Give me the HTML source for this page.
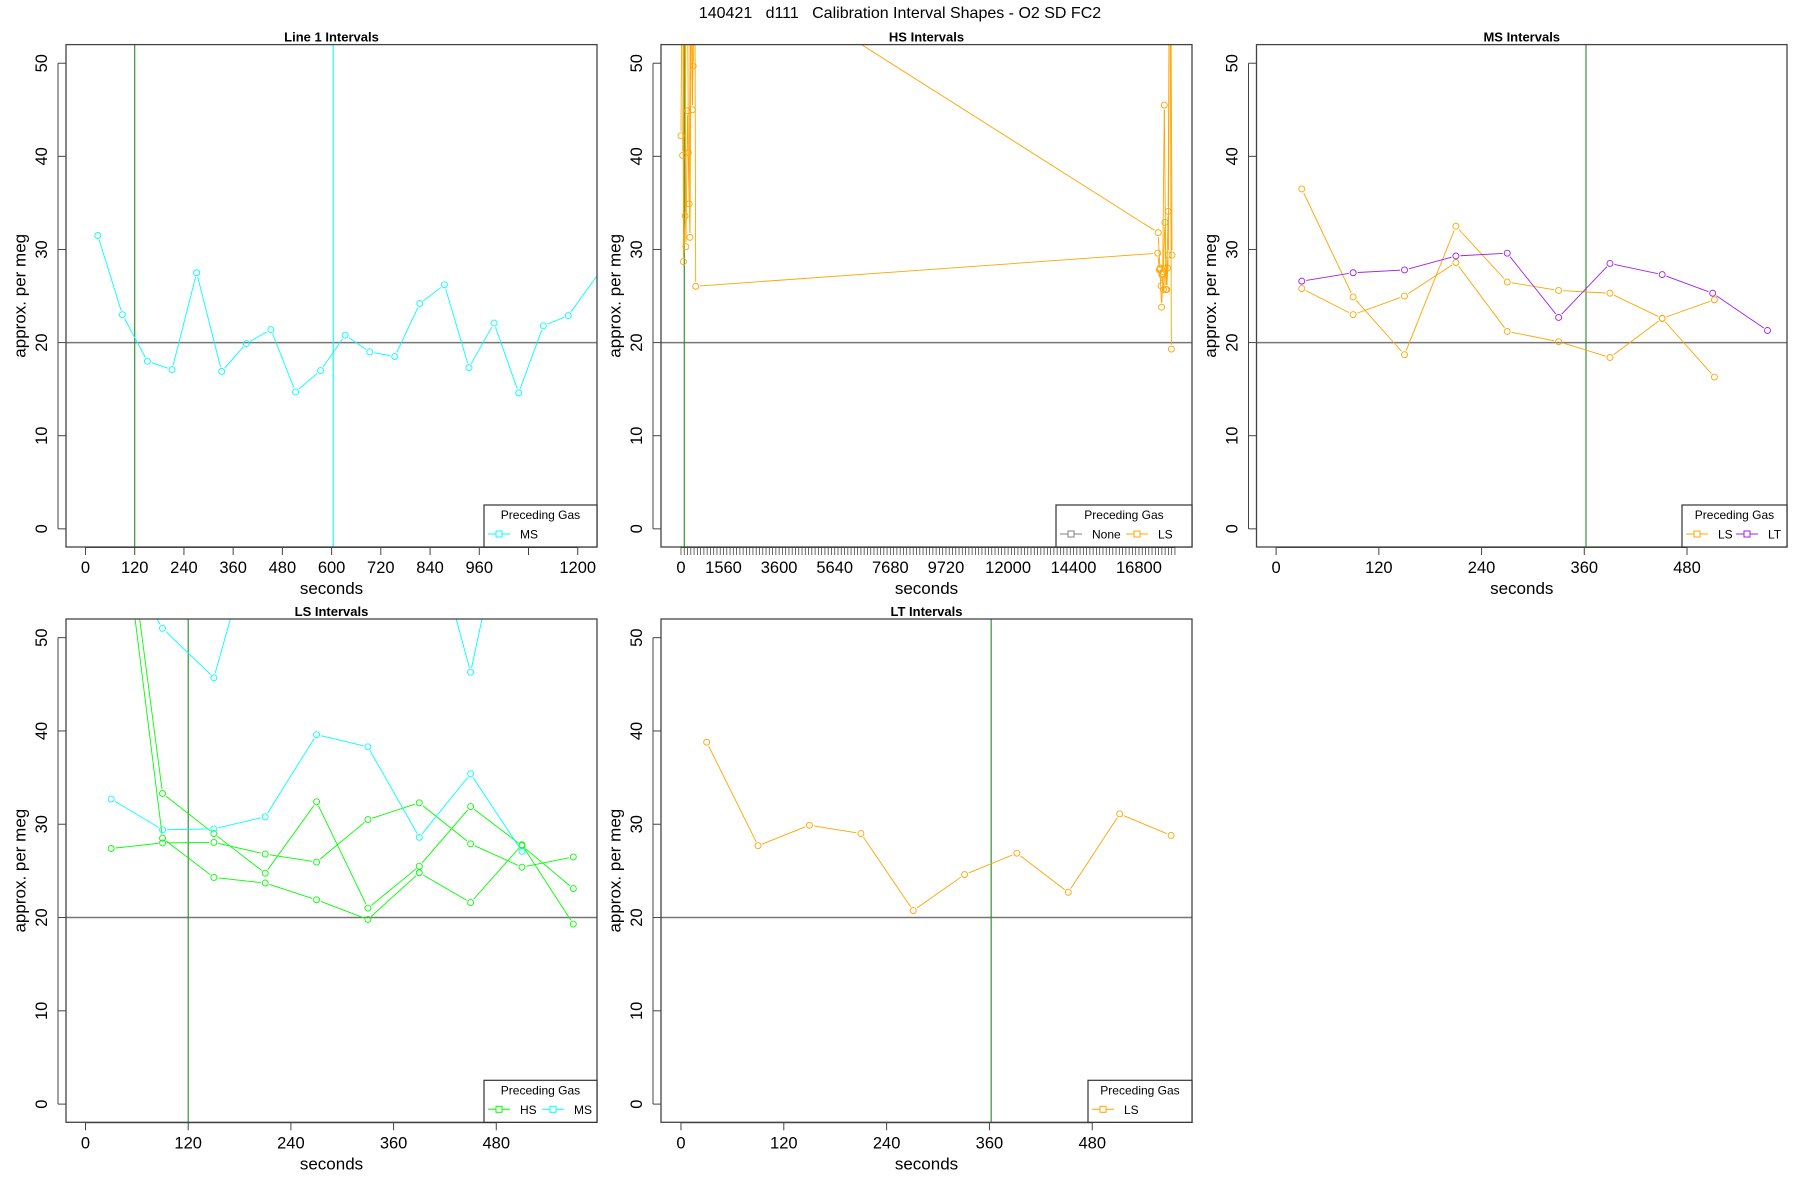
<!DOCTYPE html>
<html><head><meta charset="utf-8"><style>
html,body{margin:0;padding:0;background:#fff;}
svg{display:block;font-family:"Liberation Sans",sans-serif;}
</style></head><body>
<svg id="fig" width="1800" height="1200" viewBox="0 0 1800 1200" xmlns="http://www.w3.org/2000/svg">
<text x="900" y="18" font-size="16" text-anchor="middle" style="white-space:pre" xml:space="preserve">140421   d111   Calibration Interval Shapes - O2 SD FC2</text>
</svg>
<script>
// ---- Data arrays ----
const yTicks = [0, 10, 20, 30, 40, 50];
const refLineValue = 20;

// Panel 1: Line 1 Intervals
const line1MsX = [30, 90, 151, 211, 271, 332, 392, 452, 512, 573, 633, 693, 754, 815, 875, 935, 996, 1056, 1116, 1177, 1300];
const line1MsY = [31.5, 23.0, 18.0, 17.1, 27.5, 16.9, 19.9, 21.4, 14.7, 17.0, 20.8, 19.0, 18.5, 24.2, 26.2, 17.3, 22.1, 14.6, 21.8, 22.9, 30.4];
const line1VLines = [120, 604];
const line1XTicks = [0, 120, 240, 360, 480, 600, 720, 840, 960, 1080, 1200];
const line1XLabels = ["0", "120", "240", "360", "480", "600", "720", "840", "960", "", "1200"];

// Panel 2: HS Intervals (LS preceding)
const hsS1X = [0, 60, 90, 150, 210, 270, 330, 390, 450, 500, 540, 17490, 17550, 17610, 17670, 17730, 17790, 17850];
const hsS1Y = [42.2, 70, 28.7, 33.6, 80, 40.4, 31.3, 70, 49.7, 70, 26.05, 29.6, 27.8, 26.1, 27.4, 45.5, 25.7, 28.0];
const hsS2X = [60, 120, 180, 240, 300, 360, 420, 480, 17505, 17570, 17630, 17690, 17750, 17810, 17870, 17930, 17990];
const hsS2Y = [40.1, 65, 30.3, 44.9, 34.9, 65, 45.0, 63.4, 31.8, 27.9, 23.8, 27.6, 32.9, 25.7, 34.1, 70, 19.3];
const hsS3X = [17580, 17640, 17700, 17760, 17820, 17880, 17940, 18013];
const hsS3Y = [28.0, 27.3, 25.7, 28.0, 25.7, 29.4, 80, 29.4];
const hsVLines = [120];
const hsTickStep = 120;
const hsTickMax = 18120;
const hsLabelValues = [0, 1560, 3600, 5640, 7680, 9720, 12000, 14400, 16800];

// Panel 3: MS Intervals
const msX = [30, 90, 150, 210, 270, 330, 390, 451, 512];
const msLsAY = [36.5, 24.9, 18.7, 32.5, 26.5, 25.6, 25.3, 22.6, 16.3];
const msLsBY = [25.8, 23.0, 25.0, 28.6, 21.2, 20.1, 18.4, 22.6, 24.6];
const msLtX = [30, 90, 150, 210, 270, 330, 390, 451, 510, 574];
const msLtY = [26.6, 27.5, 27.8, 29.3, 29.6, 22.7, 28.5, 27.3, 25.3, 21.3];
const msVLines = [362];

// Panel 4: LS Intervals
const lsX = [30, 90, 150, 210, 270, 330, 390, 450, 510, 570];
const lsHs1Y = [27.4, 28.0, 28.05, 26.8, 25.95, 30.5, 32.3, 27.9, 25.4, 26.5];
const lsHs2Y = [72.5, 28.5, 24.3, 23.7, 21.9, 19.8, 24.8, 21.6, 27.8, 19.3];
const lsHs3Y = [75.3, 33.3, 29.0, 24.75, 32.4, 21.0, 25.5, 31.9, 27.7, 23.1];
const lsMs1X = [30, 90, 150, 210, 270, 330, 390, 450, 510];
const lsMs1Y = [32.7, 29.4, 29.5, 30.8, 39.6, 38.3, 28.6, 35.4, 27.1];
const lsMs2X = [30, 90, 150, 210, 270, 330, 390, 450, 510];
const lsMs2Y = [60, 51.0, 45.7, 65.3, 70, 70, 66.6, 46.3, 71.9];
const lsVLines = [120];

// Panel 5: LT Intervals
const ltX = [30, 90, 150, 210, 271, 331, 392, 452, 512, 572];
const ltLsY = [38.8, 27.7, 29.9, 29.0, 20.75, 24.6, 26.9, 22.7, 31.1, 28.8];
const ltVLines = [362];

const shortTicks = [0, 120, 240, 360, 480];
const shortLabels = ["0", "120", "240", "360", "480"];

// ---- Rendering ----
const NS = "http://www.w3.org/2000/svg";
const svg = document.getElementById('fig');
function mk(tag, attrs, parent) {
  const e = document.createElementNS(NS, tag);
  for (const k in attrs) e.setAttribute(k, attrs[k]);
  (parent || svg).appendChild(e);
  return e;
}
const COL = {cyan: "#00ffff", orange: "#ffa500", purple: "#a020f0", green: "#00ff00", vgreen: "#228b22", grey: "#808080"};
let clipId = 0;

function panel(cfg) {
  const g = mk('g', {});
  
  
  const L = cfg.box[0], T = cfg.box[1], R = cfg.box[2], B = cfg.box[3];
  const xs = v => L + (v - cfg.xd[0]) / (cfg.xd[1] - cfg.xd[0]) * (R - L);
  const ys = v => B - (v - cfg.yd[0]) / (cfg.yd[1] - cfg.yd[0]) * (B - T);
  const cid = 'clip' + (clipId++);
  const cp = mk('clipPath', {id: cid}, g);
  mk('rect', {x: L, y: T, width: R - L, height: B - T}, cp);
  const plot = mk('g', {'clip-path': 'url(#' + cid + ')'}, g);
  
  
  const rl = mk('line', {x1: L, x2: R, y1: ys(refLineValue), y2: ys(refLineValue), stroke: '#777', 'stroke-width': 1.5}, plot);
  
  
  cfg.vlines.forEach(v => {
    const vl = mk('line', {x1: xs(v[0]), x2: xs(v[0]), y1: T, y2: B, stroke: v[1], 'stroke-width': 1.1}, plot);
    
    
  });
  cfg.series.forEach(s => {
    const sg = mk('g', {}, plot);
    
    
    const pts = s.x.map((x, i) => [xs(x), ys(s.y[i])]);
    const gap = 4.5;
    for (let i = 0; i < pts.length - 1; i++) {
      const [x1, y1] = pts[i], [x2, y2] = pts[i + 1];
      const d = Math.hypot(x2 - x1, y2 - y1);
      if (d <= 2 * gap) continue;
      const ux = (x2 - x1) / d, uy = (y2 - y1) / d;
      mk('line', {x1: x1 + ux * gap, y1: y1 + uy * gap, x2: x2 - ux * gap, y2: y2 - uy * gap, stroke: s.col, 'stroke-width': 0.9}, sg);
    }
    pts.forEach(p => {
      const c = mk('circle', {cx: p[0], cy: p[1], r: 3, fill: 'none', stroke: s.col, 'stroke-width': 0.9}, sg);
      
      
    });
  });
  const bx = mk('rect', {x: L, y: T, width: R - L, height: B - T, fill: 'none', stroke: '#444', 'stroke-width': 1.3}, g);
  
  
  const ya = mk('g', {}, g);
  
  
  mk('line', {x1: L - 8, x2: L - 8, y1: ys(yTicks[0]), y2: ys(yTicks[yTicks.length - 1]), stroke: '#444'}, ya);
  yTicks.forEach(t => {
    const y = ys(t);
    mk('line', {x1: L - 8, x2: L, y1: y, y2: y, stroke: '#444'}, ya);
    const tx = mk('text', {x: L - 19, y: y, 'font-size': 16.5, 'text-anchor': 'middle', transform: 'rotate(-90 ' + (L - 19) + ' ' + y + ')'}, ya);
    tx.textContent = t;
  });
  const yl = mk('text', {x: L - 45, y: (T + B) / 2, 'font-size': 17, 'text-anchor': 'middle', 'dominant-baseline': 'middle', transform: 'rotate(-90 ' + (L - 45) + ' ' + (T + B) / 2 + ')'}, g);
  
  
  yl.textContent = 'approx. per meg';
  const xa = mk('g', {}, g);
  
  
  const tks = cfg.xticks;
  mk('line', {x1: xs(tks[0]), x2: xs(tks[tks.length - 1]), y1: B + 0.5, y2: B + 0.5, stroke: '#444'}, xa);
  tks.forEach(t => { mk('line', {x1: xs(t), x2: xs(t), y1: B, y2: B + 8, stroke: '#444', 'stroke-width': cfg.thin ? 0.8 : 1}, xa); });
  cfg.xlabels.forEach(l => {
    if (l[1] === "") return;
    const tx = mk('text', {x: xs(l[0]), y: B + 26, 'font-size': 16.5, 'text-anchor': 'middle'}, xa);
    tx.textContent = l[1];
  });
  const xl = mk('text', {x: (L + R) / 2, y: B + 47, 'font-size': 17, 'text-anchor': 'middle'}, g);
  
  
  xl.textContent = 'seconds';
  const ti = mk('text', {x: (L + R) / 2, y: T - 3, 'font-size': 13, 'font-weight': 'bold', 'text-anchor': 'middle'}, g);
  
  
  ti.textContent = cfg.title;
  const lg = mk('g', {}, g);
  
  
  const lw = cfg.legendW, lx = R - lw;
  mk('rect', {x: lx, y: B - 42, width: lw, height: 42, fill: '#fff', stroke: '#333', 'stroke-width': 1.2}, lg);
  const lt = mk('text', {x: lx + lw / 2, y: B - 28, 'font-size': 12, 'text-anchor': 'middle'}, lg);
  lt.textContent = 'Preceding Gas';
  let cx = lx + 4;
  cfg.legend.forEach(e => {
    const eg = mk('g', {}, lg);
    
    
    mk('line', {x1: cx, x2: cx + 22, y1: B - 13, y2: B - 13, stroke: e[1], 'stroke-width': 1}, eg);
    mk('rect', {x: cx + 8, y: B - 16, width: 6, height: 6, fill: '#fff', stroke: e[1]}, eg);
    const et = mk('text', {x: cx + 32, y: B - 8.5, 'font-size': 12}, eg);
    et.textContent = e[0];
    cx += e[2];
  });
}

const YD = [-1.95, 52.0];
const row1 = [44.6, 547], row2 = [619, 1122.3];
function mkLabels(ticks, labels) { return ticks.map((t, i) => [t, labels[i]]); }

panel({name: 'panel-line1-intervals', title: 'Line 1 Intervals', box: [66, row1[0], 597, row1[1]], xd: [-47.5, 1247], yd: YD,
  vlines: line1VLines.map((v, i) => [v, i === 0 ? COL.vgreen : COL.cyan]),
  series: [{name: 'series-ms', x: line1MsX, y: line1MsY, col: COL.cyan}],
  xticks: line1XTicks, xlabels: mkLabels(line1XTicks, line1XLabels),
  legendW: 113, legend: [['MS', COL.cyan, 60]]});

const hsTicks = [];
for (let t = 0; t <= hsTickMax; t += hsTickStep) hsTicks.push(t);
panel({name: 'panel-hs-intervals', title: 'HS Intervals', box: [661, row1[0], 1192, row1[1]], xd: [-733, 18746], yd: YD,
  vlines: hsVLines.map(v => [v, COL.vgreen]),
  series: [{name: 'series-ls-1', x: hsS1X, y: hsS1Y, col: COL.orange},
           {name: 'series-ls-2', x: hsS2X, y: hsS2Y, col: COL.orange},
           {name: 'series-ls-3', x: hsS3X, y: hsS3Y, col: COL.orange}],
  xticks: hsTicks, thin: true, xlabels: hsLabelValues.map(v => [v, String(v)]),
  legendW: 136, legend: [['None', COL.grey, 66], ['LS', COL.orange, 60]]});

panel({name: 'panel-ms-intervals', title: 'MS Intervals', box: [1256.5, row1[0], 1787, row1[1]], xd: [-22.9, 596.8], yd: YD,
  vlines: msVLines.map(v => [v, COL.vgreen]),
  series: [{name: 'series-ls-a', x: msX, y: msLsAY, col: COL.orange},
           {name: 'series-ls-b', x: msX, y: msLsBY, col: COL.orange},
           {name: 'series-lt', x: msLtX, y: msLtY, col: COL.purple}],
  xticks: shortTicks, xlabels: mkLabels(shortTicks, shortLabels),
  legendW: 105, legend: [['LS', COL.orange, 50], ['LT', COL.purple, 50]]});

panel({name: 'panel-ls-intervals', title: 'LS Intervals', box: [66, row2[0], 597, row2[1]], xd: [-22.8, 597.7], yd: YD,
  vlines: lsVLines.map(v => [v, COL.vgreen]),
  series: [{name: 'series-hs-1', x: lsX, y: lsHs1Y, col: COL.green},
           {name: 'series-hs-2', x: lsX, y: lsHs2Y, col: COL.green},
           {name: 'series-hs-3', x: lsX, y: lsHs3Y, col: COL.green},
           {name: 'series-ms-1', x: lsMs1X, y: lsMs1Y, col: COL.cyan},
           {name: 'series-ms-2', x: lsMs2X, y: lsMs2Y, col: COL.cyan}],
  xticks: shortTicks, xlabels: mkLabels(shortTicks, shortLabels),
  legendW: 113, legend: [['HS', COL.green, 54], ['MS', COL.cyan, 54]]});

panel({name: 'panel-lt-intervals', title: 'LT Intervals', box: [661, row2[0], 1192, row2[1]], xd: [-23.3, 596.4], yd: YD,
  vlines: ltVLines.map(v => [v, COL.vgreen]),
  series: [{name: 'series-ls', x: ltX, y: ltLsY, col: COL.orange}],
  xticks: shortTicks, xlabels: mkLabels(shortTicks, shortLabels),
  legendW: 104, legend: [['LS', COL.orange, 60]]});
</script>
</body></html>
